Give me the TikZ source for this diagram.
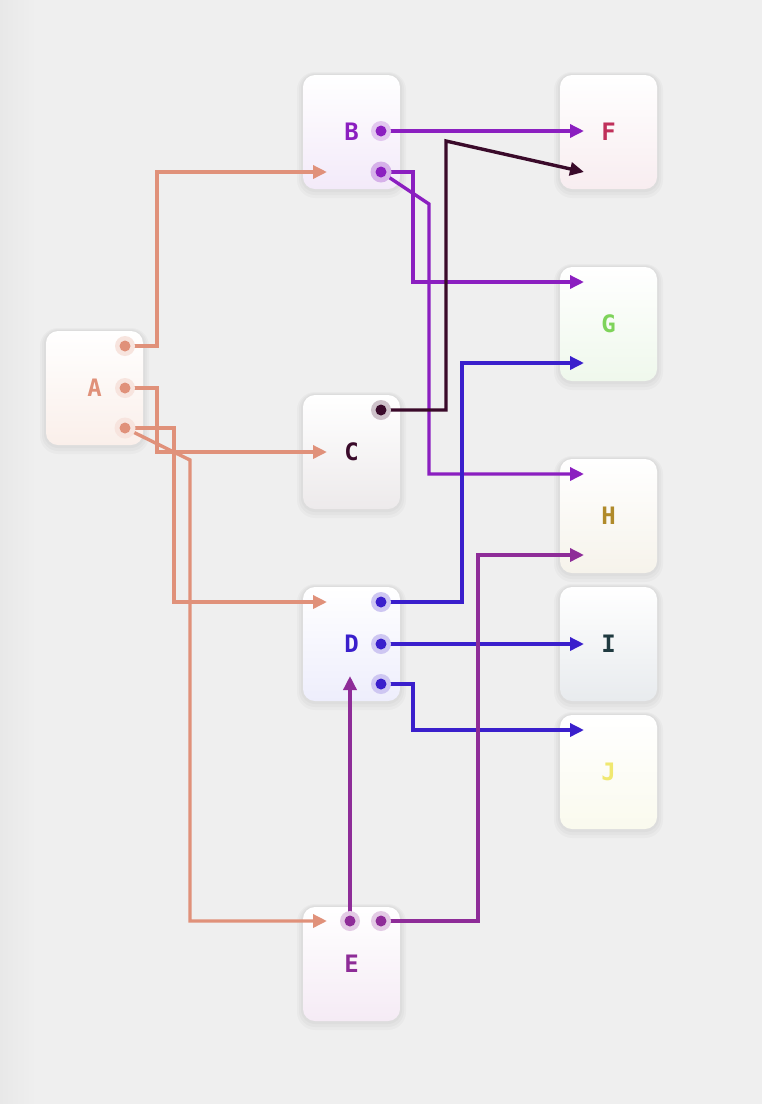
\documentclass[tikz,border=0pt]{standalone}
\usepackage{fontspec}
\setmonofont{DejaVu Sans Mono}
\usetikzlibrary{arrows.meta}
\definecolor{bg}{HTML}{EFEFEF}
\definecolor{cA}{HTML}{E0917A}
\definecolor{cB}{HTML}{8B1FC0}
\definecolor{cC}{HTML}{3A0A2A}
\definecolor{cD}{HTML}{3A1FCC}
\definecolor{cE}{HTML}{8E2C98}
\definecolor{cF}{HTML}{C0305A}
\definecolor{cG}{HTML}{7ED35A}
\definecolor{cH}{HTML}{B08A2A}
\definecolor{cI}{HTML}{1F3A40}
\definecolor{cJ}{HTML}{F0E870}
\definecolor{tA}{HTML}{FAEFEA}
\definecolor{tB}{HTML}{F3EAF9}
\definecolor{tC}{HTML}{EDEAEB}
\definecolor{tD}{HTML}{EEEEFC}
\definecolor{tE}{HTML}{F5EBF5}
\definecolor{tF}{HTML}{F8EDF0}
\definecolor{tG}{HTML}{EFF8EC}
\definecolor{tH}{HTML}{F6F3EB}
\definecolor{tI}{HTML}{E8EBEE}
\definecolor{tJ}{HTML}{FAFAEE}
\tikzset{
  box/.style={rectangle, rounded corners=12pt, minimum width=97pt, minimum height=114pt,
    draw=none, top color=white, bottom color=#1, inner sep=0pt,
    font=\ttfamily\bfseries\fontsize{24}{24}\selectfont},
  shad/.style={rectangle, rounded corners=16pt, minimum width=105pt, minimum height=122pt,
    fill=black, fill opacity=0.025, draw=none},
  port/.style={circle, minimum size=20pt, inner sep=0pt, fill=#1!25!white, draw=none,
    path picture={\fill[#1] (path picture bounding box.center) circle (5.5pt);}},
  wire/.style={line width=3.4pt, draw=#1, line join=miter, -{Triangle[length=14pt,width=13pt]}},
}
\begin{document}
\begin{tikzpicture}[x=1pt,y=-1pt]
\fill[bg] (0,0) rectangle (762,1104);
\shade[left color=black!9, right color=bg] (0,0) rectangle (36,1104);
\useasboundingbox (0,0) rectangle (762,1104);
% shadows
\foreach \x/\y in {94.5/388, 351.5/132, 351.5/452, 351.5/644, 351.5/964, 608.5/132, 608.5/324, 608.5/516, 608.5/644, 608.5/772}{
  \node[shad, minimum width=109pt, minimum height=126pt, rounded corners=18pt] at (\x,\y+3) {};
  \node[shad] at (\x,\y+2) {};
  \node[shad, minimum width=101pt, minimum height=118pt, rounded corners=14pt] at (\x,\y+1) {};
}
% boxes
\node[box=tA, text=cA] (A) at (94.5,388) {A};
\node[box=tB, text=cB] (B) at (351.5,132) {B};
\node[box=tC, text=cC] (C) at (351.5,452) {C};
\node[box=tD, text=cD] (D) at (351.5,644) {D};
\node[box=tE, text=cE] (E) at (351.5,964) {E};
\node[box=tF, text=cF] (F) at (608.5,132) {F};
\node[box=tG, text=cG] (G) at (608.5,324) {G};
\node[box=tH, text=cH] (H) at (608.5,516) {H};
\node[box=tI, text=cI] (I) at (608.5,644) {I};
\node[box=tJ, text=cJ] (J) at (608.5,772) {J};
% input points
\coordinate (Bin) at (327,172);
\coordinate (Cin) at (327,452);
\coordinate (Din) at (327,602);
\coordinate (Dbot) at (350,676);
\coordinate (Ein) at (327,921);
\coordinate (Fin1) at (584,131);
\coordinate (Fin2) at (584,172);
\coordinate (Gin1) at (584,282);
\coordinate (Gin2) at (584,363);
\coordinate (Hin1) at (584,474);
\coordinate (Hin2) at (584,555);
\coordinate (Iin) at (584,644);
\coordinate (Jin) at (584,730);
% ports (positions)
\coordinate (A1) at (125,346);
\coordinate (A2) at (125,388);
\coordinate (A3) at (125,428);
\coordinate (B1) at (381,131);
\coordinate (B2) at (381,172);
\coordinate (C1) at (381,410);
\coordinate (D1) at (381,602);
\coordinate (D2) at (381,644);
\coordinate (D3) at (381,684);
\coordinate (E1) at (350,921);
\coordinate (E2) at (381,921);
% edges
\draw[wire=cA] (A1) -- (157,346) -- (157,172) -- (Bin);
\draw[wire=cA] (A2) -- (157,388) -- (157,452) -- (Cin);
\draw[wire=cA] (A3) -- (174,428) -- (174,602) -- (Din);
\draw[wire=cA] (A3) -- (190,460) -- (190,921) -- (Ein);
\draw[wire=cB] (B1) -- (Fin1);
\draw[wire=cB] (B2) -- (413,172) -- (413,282) -- (Gin1);
\draw[wire=cB] (B2) -- (429,204) -- (429,474) -- (Hin1);
\draw[wire=cC] (C1) -- (446,410) -- (446,141) -- (Fin2);
\draw[wire=cD] (D1) -- (462,602) -- (462,363) -- (Gin2);
\draw[wire=cD] (D2) -- (Iin);
\draw[wire=cD] (D3) -- (413,684) -- (413,730) -- (Jin);
\draw[wire=cE] (E1) -- (Dbot);
\draw[wire=cE] (E2) -- (478,921) -- (478,555) -- (Hin2);
% port markers
\node[port=cA] (pA1) at (A1) {};
\node[port=cA] (pA2) at (A2) {};
\node[port=cA, minimum size=21pt] (pA3) at (A3) {};
\node[port=cB] (pB1) at (B1) {};
\node[port=cB, minimum size=21pt, fill=cB!35!white] (pB2) at (B2) {};
\node[port=cC] (pC1) at (C1) {};
\node[port=cD] (pD1) at (D1) {};
\node[port=cD] (pD2) at (D2) {};
\node[port=cD] (pD3) at (D3) {};
\node[port=cE] (pE1) at (E1) {};
\node[port=cE] (pE2) at (E2) {};
\end{tikzpicture}
\end{document}
